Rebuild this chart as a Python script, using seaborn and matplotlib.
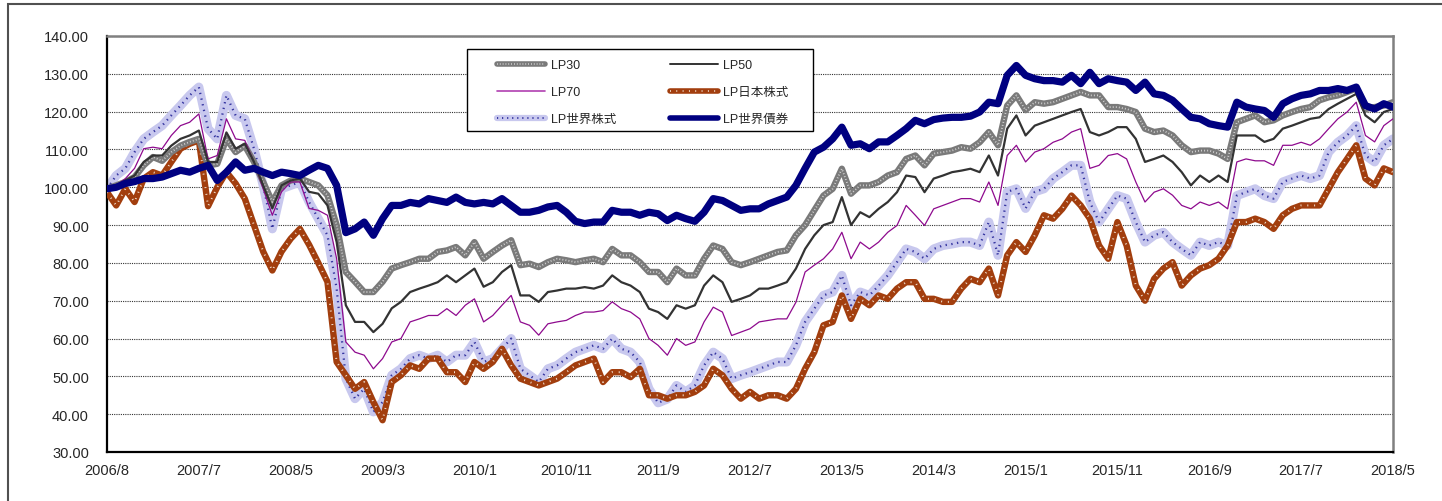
import numpy as np
import pandas as pd
import matplotlib
matplotlib.use('Agg')
import matplotlib.pyplot as plt
import seaborn as sns
from matplotlib.lines import Line2D
from matplotlib.patches import Rectangle

# tick labels on the x axis (one every 10 points)
tick_labels = ['2006/8', '2007/7', '2008/5', '2009/3', '2010/1', '2010/11', '2011/9', '2012/7',
               '2013/5', '2014/3', '2015/1', '2015/11', '2016/9', '2017/7', '2018/5']

# values, roughly one per month (141 points)
lp_bond = [99.6, 100, 101, 101.5, 102.3, 102.3, 102.7, 103.6, 104.5, 104,
           105, 105.8, 101.8, 104, 106.7, 104.5, 105, 104, 103.1, 104,
           103.6, 103.1, 104.5, 105.8, 105, 100.5, 88, 89, 90.8, 87.3,
           91.7, 95.2, 95.2, 96, 95.6, 97, 96.5, 96, 97.4, 96,
           95.6, 96, 95.6, 97, 95.2, 93.4, 93.4, 93.9, 94.8, 95.2,
           93.4, 91, 90.4, 90.8, 90.8, 93.9, 93.4, 93.4, 92.6, 93.4,
           93, 91.2, 92.6, 91.7, 91, 93.4, 97, 96.5, 95.2, 93.9,
           94.3, 94.3, 95.6, 96.5, 97.4, 100.5, 105, 109.3, 110.6, 112.8,
           115.9, 111.1, 111.5, 110.2, 112, 112, 113.7, 115.5, 117.7, 116.8,
           117.9, 118.3, 118.5, 118.5, 118.8, 119.9, 122.5, 122.1, 129.6, 132.2,
           129.6, 128.7, 128.2, 128.2, 127.8, 129.6, 127.4, 130.4, 127.4, 128.7,
           128.2, 127.8, 125.6, 127.8, 124.7, 124.3, 123, 120.7, 118.5, 118.1,
           116.8, 116.3, 115.9, 122.5, 121.2, 120.7, 120.3, 118.5, 122.1, 123.4,
           124.3, 124.7, 125.6, 125.6, 126.1, 125.6, 126.5, 121.6, 120.7, 122.1,
           121.2]

lp30 = [99.6, 100.5, 101.4, 102.7, 105.8, 108, 107, 109.3, 111, 112,
        112.8, 105.8, 106.2, 112.8, 109.3, 111, 106.7, 101.4, 96.1, 100.5,
        101.8, 102.3, 101.4, 100.5, 97.9, 90, 77.6, 75, 72.3, 72.3,
        75, 78.5, 79.4, 80.2, 81.1, 81.1, 82.9, 83.3, 84.2, 82,
        85.5, 81.1, 82.9, 84.6, 86, 79.4, 79.8, 78.9, 80.2, 81.1,
        80.7, 80.2, 80.7, 81.1, 80.2, 83.7, 82, 82, 80.2, 77.6,
        77.6, 74.9, 78.5, 76.7, 76.7, 81.1, 84.6, 83.7, 80.2, 79.4,
        80.2, 81.1, 82, 82.9, 83.3, 87.3, 90, 93.9, 97.8, 99.6,
        104.9, 98.3, 100.5, 100.5, 101.4, 103.1, 104, 107.5, 108.4, 105.8,
        108.9, 109.3, 109.7, 110.6, 110.2, 111.9, 114.6, 111.1, 121.6, 124.3,
        120.4, 122.5, 122.1, 122.5, 123.4, 124.3, 125.2, 124.3, 124.3, 121.2,
        121.2, 120.7, 119.9, 115.5, 114.6, 115, 113.7, 111.1, 109.3, 109.7,
        109.7, 108.9, 107.5, 117.2, 118.1, 119, 117.2, 117.7, 119, 119.9,
        120.7, 121.2, 123, 123.8, 124.3, 125.2, 126.1, 120.7, 121.2, 121.6,
        122.5]

lp50 = [99.6, 100.5, 101.8, 103.1, 106.7, 108.4, 108.4, 111, 112.8, 113.7,
        115, 106.7, 106.7, 114.5, 110.2, 111.5, 106.7, 100.5, 94.4, 100.5,
        101.8, 102.3, 98.8, 98.3, 95.2, 85.5, 68.8, 64.4, 64.4, 61.7,
        63.9, 68, 69.7, 72.3, 73.2, 74, 74.9, 76.7, 74.9, 76.7,
        78.5, 73.7, 74.9, 77.6, 79.4, 71.4, 71.4, 69.7, 72.3, 72.7,
        73.2, 73.2, 73.6, 73.2, 74, 76.7, 74.9, 74, 72.3, 67.9,
        67, 65.2, 68.8, 67.9, 68.8, 74, 76.7, 74.9, 69.7, 70.5,
        71.4, 73.2, 73.2, 74, 74.9, 78.5, 83.7, 87.3, 90, 90.8,
        97.4, 90, 93.4, 92.1, 94.3, 96.1, 98.7, 103.1, 102.7, 98.7,
        102.3, 103.1, 104, 104.4, 104.9, 104, 108.4, 103.1, 115.5, 119,
        113.7, 116.3, 117.2, 118.1, 119, 119.9, 120.7, 114.6, 113.7, 114.6,
        115.9, 115.9, 112.8, 106.7, 107.5, 108.4, 106.7, 104, 100.5, 103.1,
        101.4, 103.1, 101.4, 113.7, 113.7, 113.7, 112, 112.8, 115.5, 116.3,
        117.2, 118.1, 118.5, 120.7, 122.1, 123.4, 124.7, 119, 117.2, 119.9,
        120.7]

lp70 = [99.6, 100.5, 102.3, 105, 110.2, 110.6, 110.2, 113.7, 116.3, 117.2,
        119.4, 107.5, 108.4, 118.1, 112.8, 112.4, 106.7, 99.6, 92.6, 98.8,
        101.4, 101.4, 94.4, 93.9, 92.6, 81.1, 59.1, 56.4, 55.6, 52,
        54.7, 59.1, 60, 64.4, 65.2, 66.1, 66.1, 67.9, 66.1, 68.8,
        70.5, 64.4, 66.1, 68.8, 71.4, 64.4, 63.5, 60.9, 63.9, 64.4,
        64.8, 66.1, 67, 67, 67.4, 69.7, 67.9, 67, 65.2, 60,
        58.2, 55.6, 60, 58.2, 59.1, 64.4, 68.3, 67, 60.8, 61.7,
        62.6, 64.4, 64.8, 65.2, 65.2, 69.6, 77.6, 79.4, 81.1, 83.7,
        88.1, 81.1, 85.5, 83.7, 85.5, 88.1, 89.9, 95.2, 92.6, 89.9,
        94.3, 95.2, 96.1, 97, 97, 96.1, 101.4, 95.2, 108.4, 111.1,
        106.7, 109.3, 110.2, 111.9, 112.8, 114.6, 115.5, 105, 105.8, 108.4,
        108.9, 107.5, 101.4, 96.1, 98.7, 99.6, 97.9, 95.2, 94.3, 96.1,
        95.2, 96.1, 94.3, 106.7, 107.5, 107, 107, 105.8, 111.1, 111.1,
        111.9, 111.1, 112.8, 115.5, 118.1, 119.9, 122.5, 113.7, 112, 116.3,
        118.1]

lp_jp = [98.7, 95.2, 99.6, 96.1, 102.3, 104, 103.1, 106.7, 110.2, 111.5,
         112.4, 95, 100, 104, 101, 97, 90, 83, 78, 83,
         86.4, 89, 84.8, 80, 75, 53.8, 50.3, 46.7, 48.5, 43.2,
         38.4, 48.5, 50.3, 52.9, 52, 54.7, 54.7, 51.1, 51.1, 48.5,
         53.8, 52, 53.8, 57.3, 52.9, 49.4, 48.5, 47.6, 48.5, 49.4,
         51.1, 52.9, 53.8, 54.7, 48.5, 51.1, 51.1, 49.8, 52, 45,
         45, 44.1, 45, 45, 45.9, 47.6, 52, 50.3, 46.7, 44.1,
         45.9, 44.1, 45, 45, 44.1, 46.7, 52, 56.4, 63.5, 64.4,
         71.4, 65.2, 70.5, 68.8, 71.4, 70.5, 73.2, 74.9, 74.9, 70.5,
         70.5, 69.7, 69.7, 73.2, 75.8, 74.9, 78.5, 71.4, 82, 85.5,
         82.9, 87.3, 92.6, 91.7, 94.3, 97.8, 95.2, 91.7, 84.6, 81.1,
         90.8, 84.6, 74, 70, 75.8, 78.5, 80.2, 74, 76.7, 78.5,
         79.4, 81.1, 84.6, 90.8, 90.8, 91.7, 90.8, 89, 92.6, 94.3,
         95.2, 95.2, 95.2, 99.6, 104, 107.5, 111.1, 102.3, 100.5, 105,
         104]

lp_world = [99.6, 103.1, 105, 109.3, 112.8, 114.6, 116.3, 119, 121.6, 124.3,
            126.5, 115.5, 112.8, 124.3, 119, 118.1, 110.2, 100.5, 89, 99.6,
            100.5, 101.4, 96.1, 91.7, 87.3, 73.2, 49.4, 44.1, 46.7, 40.6,
            43.2, 50.3, 52, 54.7, 55.6, 54.7, 55.6, 53.8, 55.6, 55.6,
            59.1, 53.8, 54.7, 57.3, 60, 52, 50.3, 48.5, 52, 52.9,
            54.7, 56.4, 57.3, 58.2, 57.3, 60, 57.3, 56.4, 53.8, 46.7,
            43, 44, 47.6, 45.9, 47.6, 52.9, 56.4, 54.7, 49.4, 50.3,
            51.1, 52, 52.9, 53.8, 53.8, 58.2, 64.4, 67.9, 71.4, 72.3,
            76.7, 68.8, 72.3, 71.4, 74, 76.7, 80.2, 83.7, 82.9, 81.1,
            83.7, 84.6, 85, 85.5, 85.5, 84.6, 90.8, 82, 98.8, 99.6,
            94.4, 98.8, 99.6, 102.3, 104, 105.8, 105.8, 96.1, 90.8, 94.3,
            97.8, 97, 90.8, 85.5, 87.3, 88.1, 85.5, 83.7, 82, 85.5,
            84.6, 85.5, 84.6, 97.8, 98.7, 99.6, 97.8, 97, 101.4, 102.3,
            103.1, 102.3, 103.1, 109.3, 111.9, 113.7, 116.3, 108.4, 106.7, 111.1,
            112.8]

x = np.arange(len(lp30))

plt.rcParams['figure.dpi'] = 100
sns.set_style('white')
plt.rcParams['font.family'] = ['Liberation Sans', 'Noto Sans CJK JP', 'DejaVu Sans']

fig = plt.figure(figsize=(14.42, 5.02))
ax = fig.add_axes([107/1442, 1 - 453/502, 1286/1442, 416/502])

# LP world equity: light band with dark blue dots
sns.lineplot(x=x, y=lp_world, ax=ax, color='#c8c8ee', lw=6.5, zorder=2)
sns.lineplot(x=x, y=lp_world, ax=ax, color='#3434a0', lw=1.6, linestyle=(0, (0.6, 2.0)), zorder=2.1)
# LP Japan equity: brown with white dots
sns.lineplot(x=x, y=lp_jp, ax=ax, color='#a23e0e', lw=4.6, zorder=3)
sns.lineplot(x=x, y=lp_jp, ax=ax, color='#f2e0d0', lw=1.4, linestyle=(0, (0.5, 3)), zorder=3.1)
# LP30: gray checker
sns.lineplot(x=x, y=lp30, ax=ax, color='#7a7a7a', lw=4.6, zorder=4)
sns.lineplot(x=x, y=lp30, ax=ax, color='#d6d6d6', lw=1.3, linestyle=(0, (0.5, 1.2)), zorder=4.1)
# LP70 and LP50
sns.lineplot(x=x, y=lp70, ax=ax, color='#8e0a8e', lw=0.9, zorder=5)
sns.lineplot(x=x, y=lp50, ax=ax, color='#333333', lw=1.6, zorder=6)
# LP world bond
sns.lineplot(x=x, y=lp_bond, ax=ax, color='#000080', lw=5.2, zorder=7)

ax.set_xlim(0, len(x) - 1)
ax.set_ylim(30, 140)
ax.set_yticks(np.arange(30, 141, 10))
ax.set_yticklabels(['%.2f' % v for v in np.arange(30, 141, 10)], fontsize=10.5)
ax.set_xticks(np.linspace(0, len(x) - 1, len(tick_labels)))
ax.set_xticklabels(tick_labels, fontsize=10.5)
ax.set_xlabel('')
ax.set_ylabel('')
ax.yaxis.grid(True, color='#333333', linestyle=(0, (1, 1)), lw=0.8, zorder=0)
ax.xaxis.grid(False)
ax.set_axisbelow(True)
ax.tick_params(axis='both', direction='inout', length=8, width=1, color='black')
ax.tick_params(axis='y', pad=9)
ax.tick_params(axis='x', pad=4)

for side in ['left', 'bottom']:
    ax.spines[side].set_color('black')
    ax.spines[side].set_linewidth(1.6)
for side in ['top', 'right']:
    ax.spines[side].set_color('#808080')
    ax.spines[side].set_linewidth(1.8)

# legend box drawn separately so the margins can match
ax.add_patch(Rectangle(((467 - 107) / 1286, (453 - 132) / 416), 346 / 1286, 82 / 416,
                       transform=ax.transAxes, facecolor='white', edgecolor='black',
                       lw=1.0, zorder=9))

# legend, row-major in two columns
h30 = (Line2D([], [], color='#7a7a7a', lw=4), Line2D([], [], color='#d6d6d6', lw=1.2, linestyle=(0, (0.5, 1.2))))
h50 = Line2D([], [], color='#333333', lw=1.4)
h70 = Line2D([], [], color='#b040b0', lw=1.2)
hjp = (Line2D([], [], color='#a23e0e', lw=4), Line2D([], [], color='#f2e0d0', lw=1.3, linestyle=(0, (0.5, 3))))
hwd = (Line2D([], [], color='#c8c8ee', lw=4.5), Line2D([], [], color='#3434a0', lw=1.4, linestyle=(0, (0.6, 2.0))))
hbd = Line2D([], [], color='#000080', lw=4)
handles = [h30, h70, hwd, h50, hjp, hbd]
labels = ['LP30', 'LP70', 'LP世界株式', 'LP50', 'LP日本株式', 'LP世界債券']
leg = ax.legend(handles, labels, ncol=2, loc='upper left',
                bbox_to_anchor=((497 - 107) / 1286, (453 - 60) / 416),
                fontsize=9, handlelength=3.85, handletextpad=0.45,
                labelspacing=1.2, columnspacing=4.3, borderpad=0,
                frameon=False, borderaxespad=0)
leg.set_zorder(10)

# outer frame of the picture
fig.patches.append(Rectangle((8 / 1442, -0.02), 1.0, 0.99 + 0.02, transform=fig.transFigure,
                             fill=False, edgecolor='#505050', lw=1.5))

fig.savefig('out.png', dpi=100)
